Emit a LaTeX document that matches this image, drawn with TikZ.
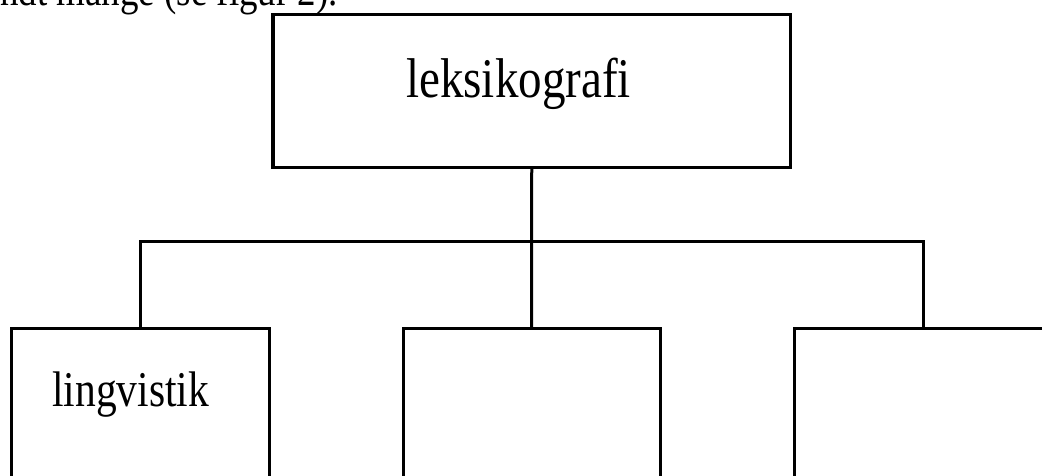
\documentclass[tikz,border=0pt]{standalone}
\usepackage{fontspec}
\setmainfont{Liberation Serif}
\begin{document}
\begin{tikzpicture}[x=1bp,y=-1bp,
  box/.style={draw=black,line width=3bp,rectangle,inner sep=0pt,minimum width=257bp,minimum height=200bp},
  conn/.style={draw=black,line width=3bp},
  bigtext/.style={inner sep=0pt,font=\fontsize{56bp}{60bp}\selectfont},
  midtext/.style={inner sep=0pt,font=\fontsize{50bp}{54bp}\selectfont},
  bodytext/.style={inner sep=0pt,font=\fontsize{44bp}{48bp}\selectfont}]
\useasboundingbox (0,0) rectangle (1042,476);
\clip (0,0) rectangle (1042,476);
\fill[white] (0,0) rectangle (1042,476);
% header text (cut off at top)
\node[bodytext,anchor=base east] (hdr) at (338,6) {\scalebox{0.84}[1]{andt mange (se figur 2).}};
% boxes
\node[box,minimum width=517.5bp,minimum height=152.5bp] (top) at (531.75,91.25) {};
\node[box] (lbox) at (140.5,429) {};
\node[box] (mbox) at (531.5,429) {};
\node[box] (rbox) at (923,429) {};
% texts
\node[bigtext,anchor=base west] (toptxt) at (406,97.7) {\scalebox{0.84}[1]{leksikografi}};
\node[midtext,anchor=base west] (ltxt) at (52,406.7) {\scalebox{0.83}[1]{lingvistik}};
% connectors
\coordinate (bus) at (0,241.7);
\draw[conn] (top.south) -- (mbox.north);
\draw[conn] (lbox.north) -- (lbox.north |- bus) -- (rbox.north |- bus) -- (rbox.north);
\end{tikzpicture}
\end{document}
